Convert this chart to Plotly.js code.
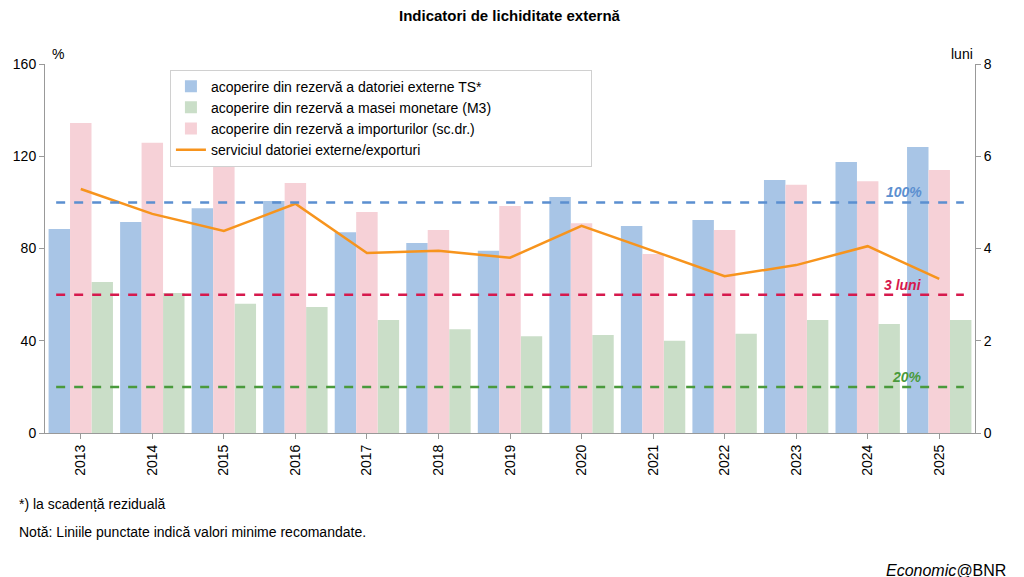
<!DOCTYPE html>
<html><head><meta charset="utf-8">
<script src="https://cdn.plot.ly/plotly-3.0.1.min.js"></script>
<style>body{margin:0}#chart{width:1024px;height:577px}</style>
</head><body><div id="chart"></div>
<script>
var ani = ['2013','2014','2015','2016','2017','2018','2019','2020','2021','2022','2023','2024','2025'];
var datoriaTS = [88.5, 91.5, 97.5, 100.6, 87, 82.4, 79, 102.3, 89.8, 92.4, 109.7, 117.5, 124];
var importuri = [6.72, 6.29, 5.81, 5.42, 4.79, 4.4, 4.92, 4.55, 3.88, 4.4, 5.38, 5.46, 5.7];
var masaM3 = [65.5, 60.7, 56, 54.6, 49, 45, 42, 42.5, 40, 43, 49, 47.3, 49];
var serviciu = [5.29, 4.75, 4.38, 4.97, 3.9, 3.95, 3.8, 4.49, 3.95, 3.4, 3.64, 4.05, 3.34];
var praguri = [100, 60, 20];
var pragEtichete = ['100%', '3 luni', '20%'];
var pragCulori = ['#5b8fd0', '#d6194d', '#4a9a3c'];

var font = 'Liberation Sans, Arial, sans-serif';
var data = [
  {type:'bar', name:'acoperire din rezervă a datoriei externe TS*', x:ani, y:datoriaTS,
   offsetgroup:'1', legendrank:1, marker:{color:'#a8c5e6'}},
  {type:'bar', name:'acoperire din rezervă a importurilor (sc.dr.)', x:ani, y:importuri,
   offsetgroup:'2', legendrank:3, yaxis:'y2', marker:{color:'#f6d1d7'}},
  {type:'bar', name:'acoperire din rezervă a masei monetare (M3)', x:ani, y:masaM3,
   offsetgroup:'3', legendrank:2, marker:{color:'#cadec8'}},
  {type:'scatter', mode:'lines', name:'serviciul datoriei externe/exporturi', x:ani, y:serviciu,
   yaxis:'y2', legendrank:4, line:{color:'#f7941d', width:2.5}}
];

var shapes = [], annotations = [];
praguri.forEach(function(v, i){
  shapes.push({type:'line', xref:'paper', x0:0.012, x1:0.988, yref:'y', y0:v, y1:v,
    line:{color:pragCulori[i], width:2.5, dash:'dash'}});
  annotations.push({xref:'paper', x:0.945, yref:'y', y:v, yanchor:'bottom', showarrow:false,
    text:'<b><i>'+pragEtichete[i]+'</i></b>', font:{color:pragCulori[i], size:14, family:font}});
});
annotations.push(
  {xref:'paper', yref:'paper', x:0.5, y:1.16, showarrow:false, text:'<b>Indicatori de lichiditate externă</b>', font:{size:15}},
  {xref:'paper', yref:'paper', x:0.005, y:1.0, yanchor:'bottom', xanchor:'left', showarrow:false, text:'%', font:{size:14}},
  {xref:'paper', yref:'paper', x:1.0, y:1.0, yanchor:'bottom', xanchor:'right', showarrow:false, text:'luni', font:{size:14}},
  {xref:'paper', yref:'paper', x:-0.03, y:-0.22, xanchor:'left', showarrow:false, text:'*) la scadență reziduală', font:{size:14}},
  {xref:'paper', yref:'paper', x:-0.03, y:-0.295, xanchor:'left', showarrow:false, text:'Notă: Liniile punctate indică valori minime recomandate.', font:{size:14}},
  {xref:'paper', yref:'paper', x:1.035, y:-0.40, xanchor:'right', showarrow:false, text:'<i>Economic@</i>BNR', font:{size:16}}
);

var layout = {
  width:1024, height:577,
  margin:{l:45, r:49, t:64, b:144},
  font:{family:font, size:14, color:'#000'},
  paper_bgcolor:'#fff', plot_bgcolor:'#fff',
  barmode:'group', bargap:0.1, bargroupgap:0,
  showlegend:true,
  legend:{orientation:'h', x:0.155, y:0.985, xanchor:'left', yanchor:'top',
    entrywidth:375, bgcolor:'#fff', bordercolor:'#d0d0d0', borderwidth:1,
    font:{size:14}, traceorder:'normal'},
  xaxis:{type:'category', tickangle:-90, showline:true, linecolor:'#999', ticks:'outside',
    tickcolor:'#999', showgrid:false},
  yaxis:{range:[0,160], dtick:40, showgrid:false, showline:true, linecolor:'#999',
    ticks:'outside', tickcolor:'#999', zeroline:false},
  yaxis2:{range:[0,8], dtick:2, overlaying:'y', side:'right', showgrid:false, showline:true,
    linecolor:'#999', ticks:'outside', tickcolor:'#999', zeroline:false},
  shapes:shapes, annotations:annotations
};
Plotly.newPlot('chart', data, layout, {displayModeBar:false});
</script></body></html>
